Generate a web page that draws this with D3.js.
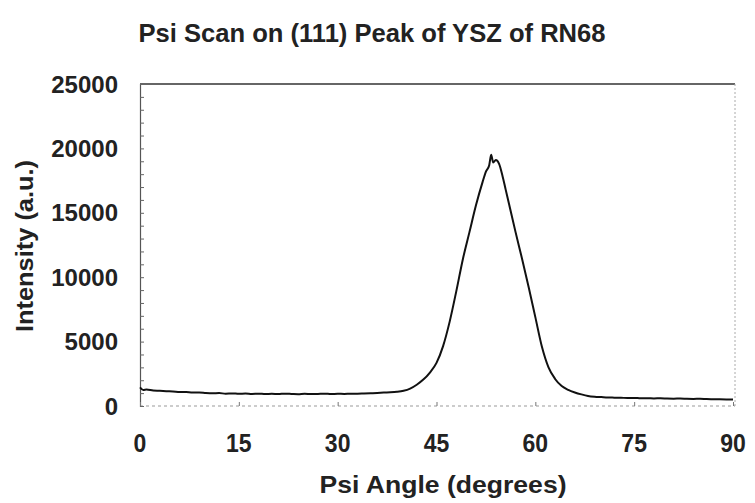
<!DOCTYPE html>
<html>
<head>
<meta charset="utf-8">
<script src="https://cdn.jsdelivr.net/npm/d3@7"></script>
<style>
  body { margin: 0; background: #fff; }
  text { font-family: "Liberation Sans", Arial, sans-serif; font-weight: bold; fill: #222; }
</style>
</head>
<body>
<svg id="chart" width="755" height="503"></svg>
<script>
// psi angle (deg) and intensity
const psi = [0,0.5,1,2,3,4,5,6,7,8,9,10,11,12,13,14,15,16,17,18,19,20,21,22,23,24,25,26,27,28,29,30,
  31,32,33,34,35,36,37,38,39,40,41,42,43,44,45,46,47,48,49,50,51,52,52.5,53,53.3,53.6,54,54.5,55,55.5,56,
  57,58,59,60,61,62,63,64,65,66,67,68,69,70,71,72,73,74,75,76,77,78,79,80,81,82,83,84,85,86,87,88,89,90];
const intensity = [1450,1250,1280,1200,1180,1150,1130,1090,1080,1040,1050,1010,990,1000,960,980,950,970,940,960,930,950,
  930,960,940,920,950,930,940,960,930,950,
  940,960,950,970,990,1010,1040,1060,1100,1180,1350,1650,2050,2600,3350,4650,6550,8900,11400,13500,15600,17400,18200,18700,19500,18900,19100,18800,17900,16800,15700,
  13500,11400,9200,6900,4600,3000,2100,1550,1250,1050,900,780,720,690,660,650,640,620,630,600,610,590,600,580,570,580,560,
  550,560,540,530,520,510,500,480];
const xTicks = [0,15,30,45,60,75,90];
const yTicks = [0,5000,10000,15000,20000,25000];

const svg = d3.select('#chart');
const x = d3.scaleLinear().domain([0,90]).range([140,733]);
const y = d3.scaleLinear().domain([0,25000]).range([406,84]);

// frame
svg.append('line').attr('x1',140).attr('x2',735).attr('y1',y(25000)).attr('y2',y(25000))
   .attr('stroke','#333').attr('stroke-width',1.5);
svg.append('line').attr('x1',735).attr('x2',735).attr('y1',y(25000)).attr('y2',y(0))
   .attr('stroke','#aaa').attr('stroke-width',1).attr('stroke-dasharray','2,2');
svg.append('line').attr('x1',140).attr('x2',735).attr('y1',y(0)).attr('y2',y(0))
   .attr('stroke','#999').attr('stroke-width',1).attr('stroke-dasharray','3,3');

// y axis, ticks pointing inward
const gY = svg.append('g').attr('transform','translate(140,0)')
  .call(d3.axisRight(y).tickValues(d3.range(0,25001,1000)).tickSize(4).tickFormat(''));
gY.select('.domain').attr('stroke','#555').attr('stroke-width',1.2);
gY.selectAll('.tick line').attr('stroke','#666');

svg.append('g').selectAll('text').data(yTicks).join('text')
  .attr('x',118).attr('y',d=>y(d)).attr('dy','0.36em')
  .attr('text-anchor','end').style('font-size','24px').text(d=>d);

// x axis ticks pointing up
const gX = svg.append('g').attr('transform',`translate(0,${y(0)})`)
  .call(d3.axisTop(x).tickValues(xTicks).tickSize(4).tickFormat(''));
gX.select('.domain').remove();
gX.selectAll('.tick line').attr('stroke','#777');

svg.append('g').selectAll('text').data(xTicks).join('text')
  .attr('x',d=>x(d)).attr('y',443).attr('dy','0.36em')
  .attr('text-anchor','middle').style('font-size','25px')
  .attr('transform',d=>`translate(${x(d)},0) scale(0.92,1) translate(${-x(d)},0)`).text(d=>d);

// curve
const line = d3.line().x((d,i)=>x(psi[i])).y(d=>y(d)).curve(d3.curveMonotoneX);
svg.append('path').datum(intensity).attr('d',line)
  .attr('fill','none').attr('stroke','#111').attr('stroke-width',2).attr('stroke-linejoin','round');

// labels
svg.append('text').attr('x',372).attr('y',42).attr('text-anchor','middle')
  .attr('textLength',467).attr('lengthAdjust','spacingAndGlyphs')
  .style('font-size','25px').text('Psi Scan on (111) Peak of YSZ of RN68');
svg.append('text').attr('x',443).attr('y',493).attr('text-anchor','middle')
  .attr('textLength',247).attr('lengthAdjust','spacingAndGlyphs')
  .style('font-size','24px').text('Psi Angle (degrees)');
svg.append('text').attr('transform','translate(33,246) rotate(-90)').attr('text-anchor','middle')
  .attr('textLength',172).attr('lengthAdjust','spacingAndGlyphs')
  .style('font-size','24px').text('Intensity (a.u.)');
</script>
</body>
</html>
